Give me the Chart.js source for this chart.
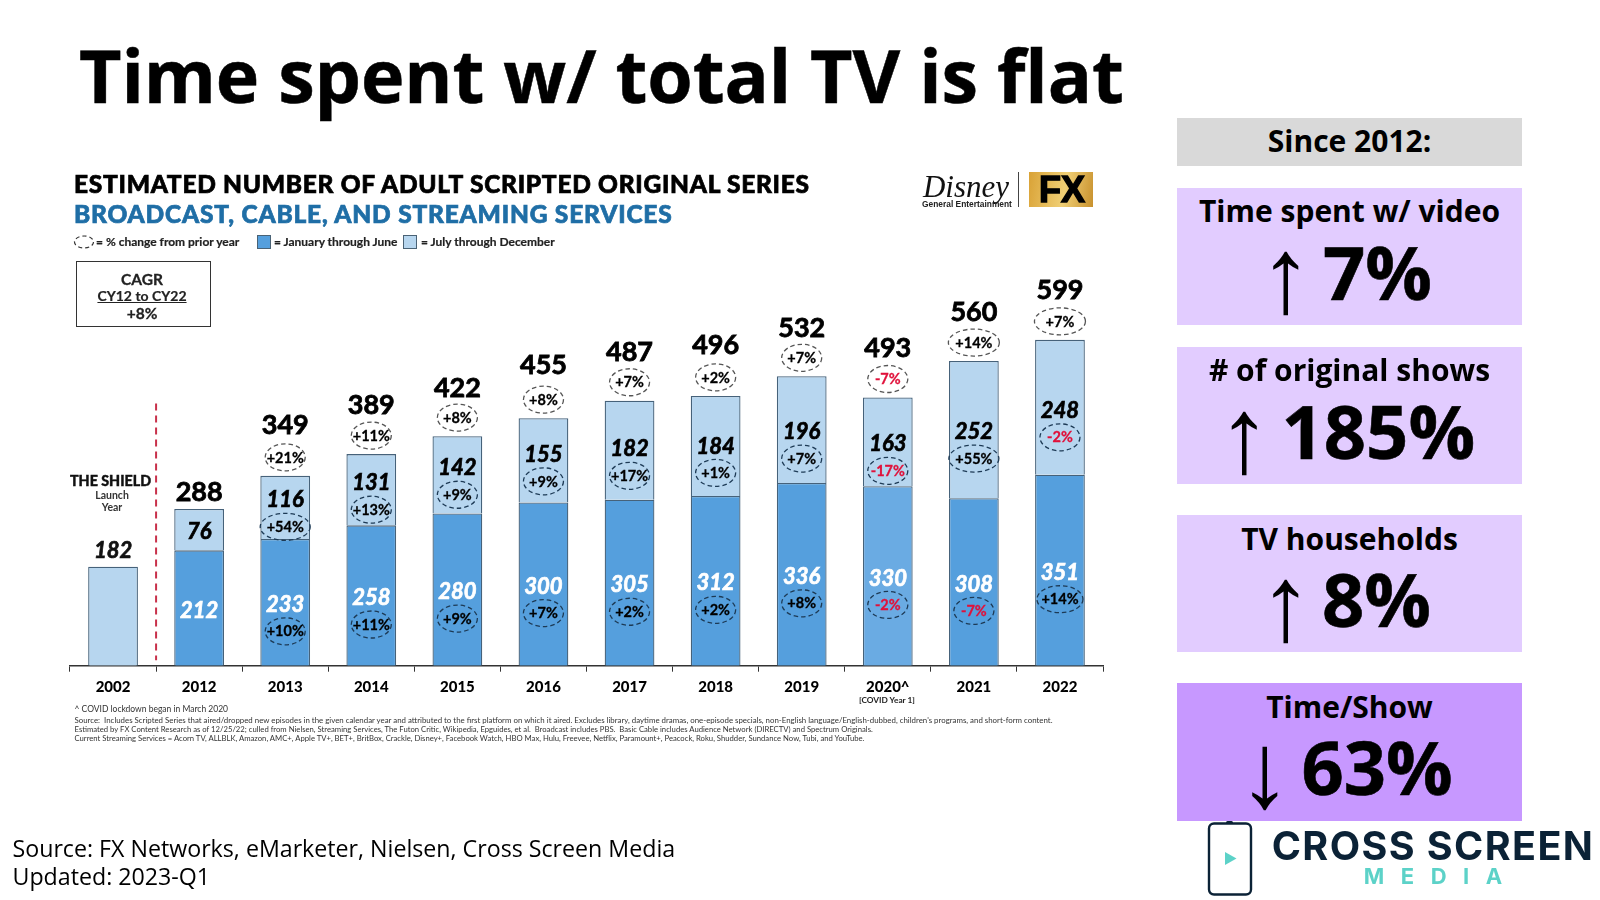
<!DOCTYPE html>
<html><head><meta charset="utf-8">
<script src="https://cdn.jsdelivr.net/npm/chart.js@4"></script>
<style>
html,body{margin:0;padding:0;background:#fff;width:1600px;height:900px;overflow:hidden}
#c{position:absolute;left:0;top:0}
.t{position:absolute;white-space:nowrap;line-height:1;color:#000}
.m{transform:translate(-50%,-50%)}
.l{transform:translateY(-50%)}
.os{font-family:"Open Sans",sans-serif}
.la{font-family:Lato,sans-serif}
.p{position:absolute;left:1177px;width:345px}
.ar{font-family:'Liberation Sans',sans-serif;font-size:107px}
</style></head><body>
<canvas id="c" width="1600" height="900"></canvas>

<div class="t os l" style="left:79px;top:75px;font-weight:700;font-size:73.5px;letter-spacing:-0.1px;-webkit-text-stroke:0.5px #000">Time spent w/ total TV is flat</div>

<div class="t la l" style="left:74px;top:183.5px;font-weight:900;font-size:24.5px;letter-spacing:0.72px;-webkit-text-stroke:0.7px #000">ESTIMATED NUMBER OF ADULT SCRIPTED ORIGINAL SERIES</div>
<div class="t la l" style="left:74px;top:214px;font-weight:900;font-size:24.5px;letter-spacing:0.8px;color:#1f6ea6;-webkit-text-stroke:0.7px #1f6ea6">BROADCAST, CABLE, AND STREAMING SERVICES</div>
<svg style="position:absolute;left:73px;top:234px" width="22" height="16"><ellipse cx="11" cy="8" rx="9.5" ry="6" fill="none" stroke="#333" stroke-width="1.2" stroke-dasharray="4 3"/></svg>
<div class="t la l" style="left:96px;top:241.5px;font-weight:700;font-size:12px;color:#222;-webkit-text-stroke:0.2px #222">= % change from prior year</div>
<div style="position:absolute;left:257px;top:235px;width:12px;height:12px;background:#559fdd;border:1px solid #4a6275"></div>
<div class="t la l" style="left:274px;top:241.5px;font-weight:700;font-size:12px;color:#222;-webkit-text-stroke:0.2px #222">= January through June</div>
<div style="position:absolute;left:403px;top:235px;width:12px;height:12px;background:#b7d6ef;border:1px solid #4a6275"></div>
<div class="t la l" style="left:421px;top:241.5px;font-weight:700;font-size:12px;color:#222;-webkit-text-stroke:0.2px #222">= July through December</div>

<div style="position:absolute;left:76px;top:260.5px;width:133px;height:64px;border:1.3px solid #333"></div>
<div class="t la m" style="left:142px;top:279.5px;font-weight:700;font-size:15.5px;color:#222;-webkit-text-stroke:0.3px #222">CAGR</div>
<div class="t la m" style="left:142px;top:295.5px;font-weight:700;font-size:14px;color:#222;text-decoration:underline;-webkit-text-stroke:0.2px #222">CY12 to CY22</div>
<div class="t la m" style="left:142px;top:313.5px;font-weight:700;font-size:15.5px;color:#222;-webkit-text-stroke:0.3px #222">+8%</div>

<div class="t la m" style="left:110.5px;top:481px;font-weight:900;font-size:14.3px;color:#111;-webkit-text-stroke:0.4px #111">THE SHIELD</div>
<div class="t la m" style="left:112px;top:495px;font-weight:700;font-size:10.5px;color:#333">Launch</div>
<div class="t la m" style="left:112px;top:507px;font-weight:700;font-size:10.5px;color:#333">Year</div>

<div class="t la m" style="left:887px;top:699.5px;font-weight:700;font-size:8.3px;color:#222">[COVID Year 1]</div>
<div class="t la l" style="left:74.5px;top:708.5px;font-size:8.5px;color:#333">^ COVID lockdown began in March 2020</div>
<div class="t la l" style="left:74.5px;top:721px;font-size:7.86px;color:#333">Source:&nbsp; Includes Scripted Series that aired/dropped new episodes in the given calendar year and attributed to the first platform on which it aired. Excludes library, daytime dramas, one-episode specials, non-English language/English-dubbed, children's programs, and short-form content.</div>
<div class="t la l" style="left:74.5px;top:730px;font-size:7.7px;color:#333">Estimated by FX Content Research as of 12/25/22; culled from Nielsen, Streaming Services, The Futon Critic, Wikipedia, Epguides, et al.&nbsp; Broadcast includes PBS.&nbsp; Basic Cable includes Audience Network (DIRECTV) and Spectrum Originals.</div>
<div class="t la l" style="left:74.5px;top:738.5px;font-size:7.7px;color:#333">Current Streaming Services = Acorn TV, ALLBLK, Amazon, AMC+, Apple TV+, BET+, BritBox, Crackle, Disney+, Facebook Watch, HBO Max, Hulu, Freevee, Netflix, Paramount+, Peacock, Roku, Shudder, Sundance Now, Tubi, and YouTube.</div>

<div class="t m" style="left:966px;top:186px;font-family:'Liberation Serif',serif;font-style:italic;font-size:31px;color:#111">Disney</div>
<div class="t m" style="left:967px;top:204px;font-family:'Liberation Sans',sans-serif;font-weight:700;font-size:8.4px;color:#222">General Entertainment</div>
<div style="position:absolute;left:1018px;top:172px;width:1px;height:35px;background:#444"></div>
<div style="position:absolute;left:1029px;top:172px;width:64px;height:35px;background:linear-gradient(100deg,#d9a236,#f0cf75 55%,#c8912d)"></div>
<div class="t m" style="left:1062px;top:190px;font-family:'Liberation Sans',sans-serif;font-weight:700;font-size:36px;color:#000;-webkit-text-stroke:1.4px #000">FX</div>

<div class="p" style="top:118px;height:48px;background:#d9d9d9"></div>
<div class="t os m" style="left:1349.5px;top:141px;font-weight:700;font-size:30px">Since 2012:</div>

<div class="p" style="top:188px;height:137px;background:#e2ccff"></div>
<div class="t os m" style="left:1349.5px;top:211px;font-weight:700;font-size:30px">Time spent w/ video</div>
<div class="t l ar" style="left:1259px;top:275px">↑</div>
<div class="t os l" style="left:1323px;top:272px;font-weight:700;font-size:74px;-webkit-text-stroke:0.6px #000">7%</div>

<div class="p" style="top:347px;height:137px;background:#e2ccff"></div>
<div class="t os m" style="left:1349.5px;top:370px;font-weight:700;font-size:30px"># of original shows</div>
<div class="t l ar" style="left:1217.5px;top:435px">↑</div>
<div class="t os l" style="left:1281.5px;top:431px;font-weight:700;font-size:74px;-webkit-text-stroke:0.6px #000">185%</div>

<div class="p" style="top:515px;height:137px;background:#e2ccff"></div>
<div class="t os m" style="left:1349.5px;top:539px;font-weight:700;font-size:30px">TV households</div>
<div class="t l ar" style="left:1259px;top:603px">↑</div>
<div class="t os l" style="left:1322px;top:599px;font-weight:700;font-size:74px;-webkit-text-stroke:0.6px #000">8%</div>

<div class="p" style="top:683px;height:138px;background:#c798ff"></div>
<div class="t os m" style="left:1349.5px;top:707px;font-weight:700;font-size:30px">Time/Show</div>
<div class="t l ar" style="left:1238px;top:770px">↓</div>
<div class="t os l" style="left:1301.5px;top:767px;font-weight:700;font-size:74px;-webkit-text-stroke:0.6px #000">63%</div>

<div class="t os l" style="left:12.5px;top:849px;font-size:23.2px">Source: FX Networks, eMarketer, Nielsen, Cross Screen Media</div>
<div class="t os l" style="left:12.5px;top:877px;font-size:23.2px">Updated: 2023-Q1</div>

<svg style="position:absolute;left:1205px;top:818px" width="50" height="80">
<rect x="4" y="5.5" width="42" height="71" rx="5" fill="#fff" stroke="#0b2236" stroke-width="2.4"/>
<rect x="21" y="3" width="7" height="3" rx="1.5" fill="#0b2236"/>
<path d="M20 34 L31.5 40.5 L20 47 Z" fill="#5cd2c8"/>
</svg>
<div class="t m" style="left:1433px;top:847px;font-family:Inter,sans-serif;font-weight:700;font-size:39.5px;letter-spacing:1.4px;color:#0b2236">CROSS SCREEN</div>
<div class="t m" style="left:1433px;top:876px;font-family:Inter,sans-serif;font-weight:700;font-size:22px;letter-spacing:16.5px;text-indent:16.5px;color:#5cd2c8">MEDIA</div>

<script>
const categories = ["2002","2012","2013","2014","2015","2016","2017","2018","2019","2020^","2021","2022"];
const janJune = [null,212,233,258,280,300,305,312,336,330,308,351];
const julDec = [182,76,116,131,142,155,182,184,196,163,252,248];
const totals = [182,288,349,389,422,455,487,496,532,493,560,599];
const changeTotal = [null,null,"+21%","+11%","+8%","+8%","+7%","+2%","+7%","-7%","+14%","+7%"];
const changeJulDec = [null,null,"+54%","+13%","+9%","+9%","+17%","+1%","+7%","-17%","+55%","-2%"];
const changeJanJune = [null,null,"+10%","+11%","+9%","+7%","+2%","+2%","+8%","-2%","-7%","+14%"];

/* label layout only (pixel nudges of labels, ellipse widths) */
const lightNudge = [0,2.5,-7,-6.5,-6.5,-5.5,-1,0.5,2.5,2.5,2.5,3.5];
const totalLift = [0,0,51,49,48,53,48,51,47.5,49.5,48.5,49.5];
const wideTop = [10,11];
const wideLight = [2,10];
const wideDark = [11];

function ell(ctx,x,y,w,dark){
  ctx.save();
  ctx.beginPath();
  ctx.ellipse(x,y,w/2,13.5,0,0,Math.PI*2);
  ctx.setLineDash([4.5,3]);
  ctx.lineWidth=1.3;
  ctx.strokeStyle=dark?"#1d3a55":"#555";
  ctx.stroke();
  ctx.restore();
}
function txt(ctx,s,x,y,font,col,sw){
  ctx.font=font;ctx.fillStyle=col;ctx.textAlign="center";ctx.textBaseline="middle";
  if(sw){ctx.save();ctx.strokeStyle=col;ctx.lineWidth=sw;ctx.strokeText(s,x,y);ctx.restore();}
  ctx.fillText(s,x,y);
}
const annotate = {
  id:"annotate",
  afterDatasetsDraw(chart){
    const ctx=chart.ctx, xs=chart.scales.x, ys=chart.scales.y;
    const dx=(xs.getPixelForValue(0)+xs.getPixelForValue(1))/2;
    ctx.save();
    ctx.strokeStyle="#c8304a";ctx.lineWidth=2;ctx.setLineDash([7,5]);
    ctx.beginPath();ctx.moveTo(dx,ys.getPixelForValue(482));ctx.lineTo(dx,ys.getPixelForValue(10));ctx.stroke();
    ctx.restore();
    const pf="700 14.5px Lato", vf="italic 700 22px Lato", tf="700 27px Lato", pctCol=s=>s[0]==="-"?"#e0103a":"#000";
    categories.forEach((c,i)=>{
      const x=xs.getPixelForValue(i), top=ys.getPixelForValue(totals[i]);
      if(i===0){
        txt(ctx,String(julDec[0]),x,top-16,vf,"#111",0.7);
        return;
      }
      const split=ys.getPixelForValue(janJune[i]), base=ys.getPixelForValue(0);
      if(changeTotal[i]){
        const w=wideTop.includes(i)?51:40;
        ell(ctx,x,top-18.5,w,false);
        txt(ctx,changeTotal[i],x,top-18,pf,pctCol(changeTotal[i]),0.3);
        txt(ctx,String(totals[i]),x,top-totalLift[i],tf,"#000",0.8);
      } else {
        txt(ctx,String(totals[i]),x,top-17,tf,"#000",0.8);
      }
      const ly=(top+split)/2+lightNudge[i];
      txt(ctx,String(julDec[i]),x,ly,vf,"#000",0.7);
      if(changeJulDec[i]){
        const w=wideLight.includes(i)?50:40;
        ell(ctx,x,ly+26.5,w,true);
        txt(ctx,changeJulDec[i],x,ly+27,pf,pctCol(changeJulDec[i]),0.3);
      }
      const dy=(split+base)/2+2.5;
      txt(ctx,String(janJune[i]),x,dy,vf,"#fff",0.7);
      if(changeJanJune[i]){
        const w=wideDark.includes(i)?46:40;
        ell(ctx,x,dy+26.5,w,true);
        txt(ctx,changeJanJune[i],x,dy+27,pf,pctCol(changeJanJune[i]),0.3);
      }
    });
  }
};
new Chart(document.getElementById("c"),{
  type:"bar",
  data:{labels:categories,datasets:[
    {label:"January through June",data:janJune,stack:"s",
     backgroundColor:categories.map(c=>c==="2020^"?"#6aabe3":"#559fdd"),borderColor:"#46627a",borderWidth:1.3},
    {label:"July through December",data:julDec,stack:"s",
     backgroundColor:"#b7d6ef",borderColor:"#46627a",borderWidth:1.3}
  ]},
  options:{
    responsive:false,animation:false,devicePixelRatio:1,
    layout:{padding:{left:70,right:497,top:121.7,bottom:194.3}},
    datasets:{bar:{barPercentage:0.578,categoryPercentage:1}},
    plugins:{legend:{display:false},tooltip:{enabled:false}},
    scales:{
      x:{stacked:true,
         afterFit(s){s.height=40},
         border:{color:"#333",width:1.5},
         grid:{display:true,drawOnChartArea:false,drawTicks:true,tickLength:6,color:"#333",offset:true},
         ticks:{color:"#000",font:{family:"Lato",weight:"900",size:15},padding:6,maxRotation:0,autoSkip:false}},
      y:{stacked:true,display:false,min:0,max:1000}
    }
  },
  plugins:[annotate]
});
</script>
</body></html>
